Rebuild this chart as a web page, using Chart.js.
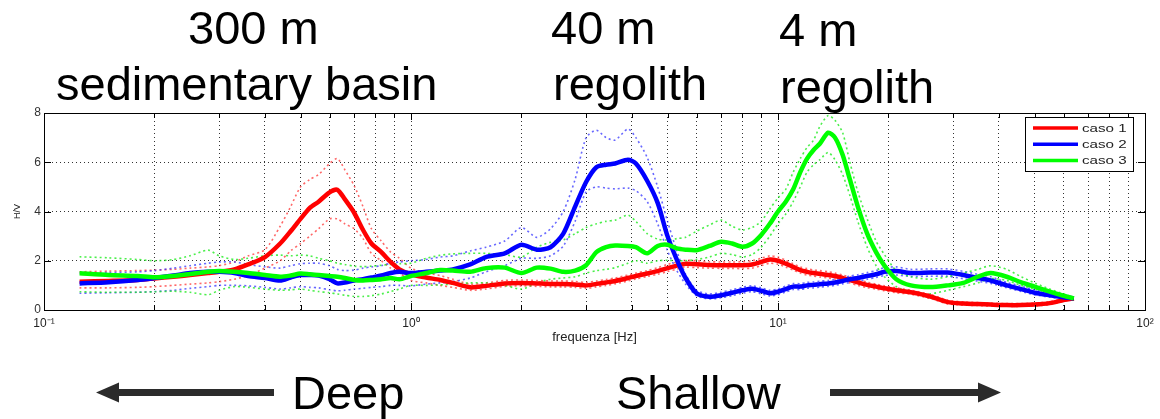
<!DOCTYPE html>
<html>
<head>
<meta charset="utf-8">
<script src="https://cdn.jsdelivr.net/npm/chart.js@4.4.1/dist/chart.umd.min.js"></script>
<style>
  html, body { margin: 0; padding: 0; background: #ffffff; }
  canvas { display: block; }
</style>
</head>
<body>
<canvas id="c" width="1160" height="419"></canvas>
<script>
// ---------- DATA ----------
const freq = [0.125,0.15,0.18,0.2,0.225,0.25,0.28,0.3,0.33,0.36,
  0.4,0.44,0.47,0.5,0.53,0.56,0.6,0.63,0.66,0.7,
  0.74,0.78,0.83,0.88,0.93,1.0,1.1,1.2,1.3,1.45,
  1.6,1.8,2.0,2.2,2.4,2.6,2.8,3.0,3.2,3.4,
  3.6,3.9,4.1,4.4,4.7,5.0,5.3,5.6,6.0,6.5,
  7.0,7.5,8.0,8.5,9.0,9.5,10,10.5,11,11.5,
  12,12.5,13,13.7,14.3,15,15.7,16.5,17.5,18.5,
  19.5,21,23,26,29,32,35,38,42,46,
  50,55,60,64];

const caso1 = [1.15,1.18,1.22,1.28,1.35,1.42,1.5,1.55,1.65,1.85,
  2.15,2.7,3.2,3.7,4.15,4.4,4.78,4.88,4.5,3.95,
  3.25,2.7,2.35,1.95,1.65,1.45,1.32,1.22,1.1,0.92,
  0.98,1.08,1.1,1.08,1.06,1.06,1.04,1.0,1.06,1.12,
  1.18,1.3,1.38,1.48,1.58,1.7,1.8,1.88,1.86,1.83,
  1.82,1.82,1.82,1.85,1.95,2.05,2.0,1.88,1.75,1.62,
  1.55,1.5,1.47,1.42,1.38,1.3,1.22,1.12,1.02,0.95,
  0.88,0.8,0.72,0.55,0.32,0.26,0.24,0.22,0.2,0.2,
  0.22,0.28,0.4,0.47];
const caso1Upper = [1.55,1.58,1.6,1.62,1.65,1.7,1.75,1.8,1.95,2.2,
  2.45,3.4,4.2,5.0,5.3,5.5,5.95,6.15,5.7,5.05,
  4.2,3.3,2.8,2.35,2.1,1.7,1.5,1.4,1.25,1.05,
  1.1,1.2,1.22,1.2,1.18,1.18,1.16,1.12,1.18,1.24,
  1.3,1.42,1.5,1.6,1.72,1.85,1.95,2.02,2.0,1.96,
  1.95,1.95,1.96,2.0,2.1,2.2,2.15,2.02,1.88,1.75,
  1.68,1.62,1.6,1.55,1.5,1.42,1.34,1.24,1.13,1.05,
  0.98,0.9,0.8,0.63,0.4,0.33,0.3,0.28,0.26,0.26,
  0.28,0.34,0.45,0.52];
const caso1Lower = [0.9,0.9,0.92,0.95,1.0,1.05,1.1,1.15,1.25,1.4,
  1.7,2.0,2.4,2.7,3.0,3.3,3.7,3.7,3.5,3.3,
  2.9,2.3,2.0,1.7,1.5,1.2,1.1,1.0,0.92,0.8,
  0.85,0.96,0.98,0.96,0.94,0.94,0.92,0.88,0.94,1.0,
  1.06,1.18,1.26,1.36,1.45,1.56,1.66,1.74,1.72,1.7,
  1.69,1.69,1.68,1.7,1.8,1.9,1.86,1.74,1.62,1.5,
  1.42,1.38,1.34,1.3,1.26,1.18,1.1,1.0,0.91,0.85,
  0.78,0.7,0.64,0.47,0.25,0.2,0.18,0.16,0.15,0.15,
  0.17,0.22,0.35,0.42];

const caso2 = [1.08,1.13,1.22,1.3,1.4,1.5,1.55,1.55,1.5,1.38,
  1.3,1.2,1.32,1.42,1.42,1.4,1.25,1.08,1.12,1.2,
  1.25,1.32,1.4,1.5,1.55,1.5,1.55,1.6,1.65,1.85,
  2.15,2.3,2.65,2.45,2.55,3.1,4.2,5.2,5.8,5.9,
  5.95,6.1,5.95,5.25,4.35,3.0,2.05,1.3,0.68,0.54,
  0.6,0.7,0.8,0.86,0.78,0.68,0.74,0.85,0.95,0.95,
  1.0,1.02,1.05,1.08,1.12,1.18,1.25,1.3,1.38,1.45,
  1.55,1.58,1.5,1.52,1.52,1.42,1.3,1.2,1.0,0.85,
  0.7,0.6,0.52,0.47];
const caso2Upper = [1.5,1.52,1.55,1.6,1.7,1.8,1.9,1.95,1.95,1.85,
  1.75,1.7,1.8,1.88,1.9,1.9,1.8,1.65,1.6,1.62,
  1.7,1.75,1.8,1.9,1.95,2.0,2.05,2.15,2.2,2.4,
  2.55,2.8,3.35,2.95,3.3,4.0,5.3,7.0,7.3,7.0,
  6.9,7.35,7.0,6.2,5.0,3.6,2.4,1.45,0.8,0.65,
  0.72,0.82,0.92,0.98,0.9,0.8,0.86,0.97,1.07,1.07,
  1.12,1.14,1.17,1.2,1.25,1.3,1.38,1.43,1.52,1.6,
  1.72,1.75,1.65,1.67,1.67,1.57,1.45,1.35,1.12,0.97,
  0.82,0.7,0.6,0.52];
const caso2Lower = [0.68,0.7,0.72,0.75,0.8,0.88,0.95,1.0,1.0,0.98,
  0.92,0.85,0.9,0.95,0.92,0.9,0.82,0.78,0.8,0.85,
  0.88,0.92,0.95,1.0,1.0,0.98,1.05,1.1,1.15,1.3,
  1.55,1.8,2.1,2.1,2.2,2.6,3.6,4.8,5.0,4.95,
  4.92,4.95,4.85,4.4,3.5,2.4,1.6,1.05,0.58,0.45,
  0.5,0.58,0.68,0.74,0.66,0.57,0.62,0.73,0.83,0.83,
  0.88,0.9,0.93,0.96,1.0,1.06,1.12,1.17,1.25,1.32,
  1.4,1.42,1.36,1.37,1.37,1.27,1.17,1.08,0.9,0.75,
  0.62,0.52,0.45,0.42];

const caso3 = [1.49,1.42,1.38,1.33,1.38,1.46,1.55,1.58,1.55,1.5,
  1.42,1.35,1.4,1.48,1.45,1.42,1.38,1.35,1.3,1.22,
  1.2,1.22,1.25,1.3,1.25,1.38,1.5,1.62,1.6,1.55,
  1.7,1.72,1.5,1.72,1.68,1.55,1.6,1.82,2.35,2.55,
  2.62,2.6,2.55,2.3,2.6,2.65,2.5,2.45,2.43,2.6,
  2.77,2.7,2.57,2.7,3.05,3.5,4.0,4.4,4.9,5.6,
  6.15,6.5,6.75,7.2,7.0,6.3,5.3,4.2,3.1,2.35,
  1.8,1.25,1.0,0.93,1.0,1.1,1.35,1.5,1.35,1.12,
  0.95,0.75,0.58,0.47];
const caso3Upper = [2.16,2.12,2.05,2.0,2.05,2.2,2.43,2.2,2.05,2.1,
  2.2,2.23,2.2,2.23,2.2,2.1,2.0,1.9,1.85,1.78,
  1.76,1.78,1.82,1.85,1.88,1.9,2.1,2.22,2.28,2.3,
  2.3,2.25,2.15,2.55,2.75,2.85,3.1,3.35,3.5,3.6,
  3.65,3.85,3.6,3.1,2.88,2.84,2.9,2.95,3.2,3.45,
  3.65,3.4,3.25,3.35,3.6,4.1,4.55,4.9,5.6,6.15,
  6.6,6.9,7.45,7.9,7.7,7.2,6.0,4.8,3.7,2.8,
  2.25,1.6,1.35,1.25,1.35,1.5,1.65,1.8,1.65,1.35,
  1.1,0.85,0.65,0.5];
const caso3Lower = [0.74,0.72,0.72,0.74,0.76,0.72,0.62,0.8,0.95,0.92,
  0.85,0.8,0.82,0.85,0.8,0.75,0.7,0.65,0.6,0.55,
  0.55,0.58,0.65,0.75,0.85,1.0,1.0,1.02,1.05,1.1,
  1.1,1.0,0.85,1.1,1.25,1.3,1.35,1.5,1.6,1.65,
  1.72,1.9,2.0,1.9,2.0,2.02,2.0,2.0,2.05,2.15,
  2.3,2.25,2.15,2.25,2.55,3.0,3.5,3.9,4.4,5.0,
  5.6,5.9,6.1,6.4,6.1,5.5,4.65,3.6,2.55,1.8,
  1.35,0.95,0.72,0.66,0.8,0.95,1.1,1.28,1.2,1.0,
  0.85,0.68,0.52,0.45];

const seriesNames = ['caso 1', 'caso 2', 'caso 3'];
const seriesColors = ['#ff0000', '#0000ff', '#00ff00'];
const boundColors = ['rgba(255,40,40,0.7)', 'rgba(40,40,255,0.7)', 'rgba(30,235,30,0.8)'];
const yTicks = [0, 2, 4, 6, 8];
const xTicks = [0.1,0.2,0.3,0.4,0.5,0.6,0.7,0.8,0.9,1,2,3,4,5,6,7,8,9,10,20,30,40,50,60,70,80,90,100];
const xMajor = [0.1, 1, 10, 100];
const xMajorLabels = ['10\u207B\u00B9', '10\u2070', '10\u00B9', '10\u00B2'];
const xTitle = 'frequenza [Hz]';
const yTitle = 'H/V';
const headTexts = [['300 m', 'sedimentary basin'], ['40 m', 'regolith'], ['4 m', 'regolith']];
const footTexts = ['Deep', 'Shallow'];

// ---------- CHART ----------
const FONT = '"Liberation Sans", Arial, Helvetica, sans-serif';
const pts = arr => freq.map((f, i) => ({ x: f, y: arr[i] }));
const meanSet = (k, arr, order) => ({
  label: seriesNames[k], data: pts(arr), borderColor: seriesColors[k], backgroundColor: seriesColors[k],
  borderWidth: 4.5, pointRadius: 0, tension: 0.25, fill: false, order
});
const boundSet = (k, arr, order) => ({
  label: seriesNames[k] + ' bound', data: pts(arr), borderColor: boundColors[k],
  borderWidth: 1.6, borderDash: [2, 3], pointRadius: 0, tension: 0.25, fill: false, order
});

const datasets = [
  meanSet(0, caso1, 3), meanSet(1, caso2, 2), meanSet(2, caso3, 1),
  boundSet(0, caso1Upper, 6), boundSet(0, caso1Lower, 6),
  boundSet(1, caso2Upper, 5), boundSet(1, caso2Lower, 5),
  boundSet(2, caso3Upper, 4), boundSet(2, caso3Lower, 4)
];

const overlay = {
  id: 'overlay',
  afterDraw(chart) {
    const ctx = chart.ctx;
    const ca = chart.chartArea;
    const xs = chart.scales.x, ys = chart.scales.y;
    ctx.save();
    // box
    ctx.strokeStyle = '#000';
    ctx.lineWidth = 1;
    ctx.strokeRect(Math.round(ca.left) + 0.5, Math.round(ca.top) + 0.5,
      Math.round(ca.right - ca.left), Math.round(ca.bottom - ca.top));
    // inward ticks
    ctx.beginPath();
    xTicks.forEach(v => {
      const px = Math.round(xs.getPixelForValue(v)) + 0.5;
      const len = xMajor.includes(v) ? 7 : 5;
      ctx.moveTo(px, ca.bottom); ctx.lineTo(px, ca.bottom - len);
      ctx.moveTo(px, ca.top); ctx.lineTo(px, ca.top + len);
    });
    yTicks.forEach(v => {
      const py = Math.round(ys.getPixelForValue(v)) + 0.5;
      ctx.moveTo(ca.left, py); ctx.lineTo(ca.left + 7, py);
      ctx.moveTo(ca.right, py); ctx.lineTo(ca.right - 7, py);
    });
    ctx.stroke();

    // legend (inside top-right)
    const lx = ca.right - 120, ly = ca.top + 4, lw = 108, lh = 54;
    ctx.fillStyle = '#fff';
    ctx.fillRect(lx, ly, lw, lh);
    ctx.strokeStyle = '#000';
    ctx.strokeRect(lx + 0.5, ly + 0.5, lw, lh);
    seriesNames.forEach((name, k) => {
      const yy = ly + 11 + k * 16.2;
      ctx.strokeStyle = seriesColors[k];
      ctx.lineWidth = 3.5;
      ctx.beginPath(); ctx.moveTo(lx + 8, yy); ctx.lineTo(lx + 53, yy); ctx.stroke();
      ctx.save();
      ctx.translate(lx + 57, yy);
      ctx.scale(1.38, 1);
      ctx.fillStyle = '#222';
      ctx.font = '11px ' + FONT;
      ctx.textBaseline = 'middle';
      ctx.fillText(name, 0, 1);
      ctx.restore();
    });

    // headline texts
    ctx.fillStyle = '#000';
    ctx.font = '47px ' + FONT;
    ctx.textBaseline = 'alphabetic';
    ctx.textAlign = 'left';
    ctx.fillText(headTexts[0][0], 188, 44);
    ctx.fillText(headTexts[0][1], 56, 100);
    ctx.fillText(headTexts[1][0], 551, 44);
    ctx.fillText(headTexts[1][1], 553, 100);
    ctx.fillText(headTexts[2][0], 779, 46);
    ctx.fillText(headTexts[2][1], 780, 103);
    ctx.fillText(footTexts[0], 292, 409);
    ctx.fillText(footTexts[1], 616, 409);

    // arrows
    ctx.fillStyle = '#2b2b2b';
    const ay = 392.5;
    ctx.fillRect(112, ay - 3.5, 162, 7);
    ctx.beginPath(); ctx.moveTo(96, ay); ctx.lineTo(119, ay - 10); ctx.lineTo(119, ay + 10); ctx.closePath(); ctx.fill();
    ctx.fillRect(830, ay - 3.5, 155, 7);
    ctx.beginPath(); ctx.moveTo(1001, ay); ctx.lineTo(978, ay - 10); ctx.lineTo(978, ay + 10); ctx.closePath(); ctx.fill();
    ctx.restore();
  }
};

new Chart(document.getElementById('c'), {
  type: 'line',
  data: { datasets },
  plugins: [overlay],
  options: {
    responsive: false,
    animation: false,
    layout: { padding: { top: 113, right: 15, left: 0, bottom: 0 } },
    plugins: { legend: { display: false }, tooltip: { enabled: false } },
    scales: {
      x: {
        type: 'logarithmic', min: 0.1, max: 100,
        afterBuildTicks: s => { s.ticks = xTicks.map(v => ({ value: v })); },
        afterFit: s => { s.height = 109; },
        ticks: {
          autoSkip: false, maxRotation: 0, minRotation: 0, padding: 6,
          color: '#222', font: { family: FONT, size: 12 },
          callback: v => { const k = xMajor.indexOf(v); return k >= 0 ? xMajorLabels[k] : ''; }
        },
        grid: { color: 'rgba(0,0,0,0.8)', lineWidth: 1, drawTicks: false },
        border: { display: false, dash: [1, 3] },
        title: { display: true, text: xTitle, color: '#222', font: { family: FONT, size: 13 }, padding: { top: 0, bottom: 74 } }
      },
      y: {
        min: 0, max: 8,
        afterBuildTicks: s => { s.ticks = yTicks.map(v => ({ value: v })); },
        afterFit: s => { s.width = 44; },
        ticks: { padding: 3, color: '#333', font: { family: FONT, size: 12 } },
        grid: { color: 'rgba(0,0,0,0.8)', lineWidth: 1, drawTicks: false },
        border: { display: false, dash: [1, 3] },
        title: { display: true, text: yTitle, color: '#222', font: { family: FONT, size: 9 }, padding: { top: 12, bottom: 0 } }
      }
    }
  }
});
</script>
</body>
</html>
